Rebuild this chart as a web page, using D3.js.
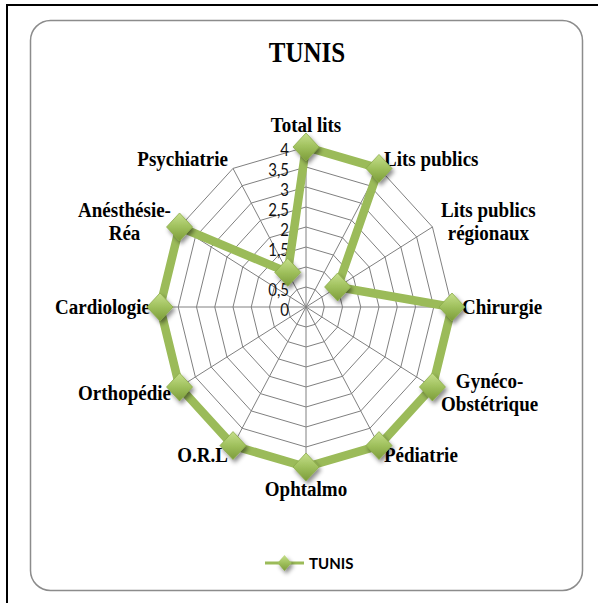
<!DOCTYPE html>
<html>
<head>
<meta charset="utf-8">
<script src="https://cdn.jsdelivr.net/npm/d3@7"></script>
<style>
  html, body { margin: 0; padding: 0; background: #fff; }
  svg { display: block; }
</style>
</head>
<body>
<svg id="chart" width="598" height="603"></svg>
<script>
// Hospital capacity indicators for the Tunis governorate
const categories = [
  ["Total lits"],
  ["Lits publics"],
  ["Lits publics", "régionaux"],
  ["Chirurgie"],
  ["Gynéco-", "Obstétrique"],
  ["Pédiatrie"],
  ["Ophtalmo"],
  ["O.R.L"],
  ["Orthopédie"],
  ["Cardiologie"],
  ["Anésthésie-", "Réa"],
  ["Psychiatrie"]
];
const seriesName = "TUNIS";
const values = [4, 4, 1, 4, 4, 4, 4, 4, 4, 4, 4, 1];
const tickValues = [0, 0.5, 1, 1.5, 2, 2.5, 3, 3.5, 4];
const tickLabels = ["0", "0,5", "1", "1,5", "2", "2,5", "3", "3,5", "4"];

const W = 598, H = 603;
const cx = 306, cy = 307, stretch = 1.096;
const green = "#9bbb59";

const svg = d3.select("#chart");
const defs = svg.append("defs");

const grad = defs.append("linearGradient")
  .attr("id", "markerFill").attr("x1", 0).attr("y1", 0).attr("x2", 0).attr("y2", 1);
grad.append("stop").attr("offset", "0%").attr("stop-color", "#c6df8c");
grad.append("stop").attr("offset", "50%").attr("stop-color", "#9fc05c");
grad.append("stop").attr("offset", "100%").attr("stop-color", "#7c9c3a");

const shadow = defs.append("filter").attr("id", "shadow")
  .attr("x", "-50%").attr("y", "-50%").attr("width", "200%").attr("height", "200%");
shadow.append("feDropShadow").attr("dx", 2).attr("dy", 3).attr("stdDeviation", 2)
  .attr("flood-color", "#000").attr("flood-opacity", 0.45);

// Outer frame and chart area
svg.append("rect")
  .attr("x", 7).attr("y", 5).attr("width", W + 10).attr("height", H + 10)
  .attr("fill", "none").attr("stroke", "#000").attr("stroke-width", 2);
svg.append("rect")
  .attr("x", 30.5).attr("y", 20.5).attr("width", 552).attr("height", 570)
  .attr("rx", 20).attr("ry", 20)
  .attr("fill", "#fff").attr("stroke", "#8c8c8c").attr("stroke-width", 1.5);

// Title
svg.append("text")
  .attr("transform", `translate(307,62) scale(1,1.15)`)
  .attr("text-anchor", "middle")
  .attr("font-family", "'Liberation Serif', serif")
  .attr("font-weight", "bold")
  .attr("font-size", 25)
  .attr("fill", "#000")
  .text(seriesName);

// Scales
const r = d3.scaleLinear().domain([0, 4]).range([0, 146]);
const angle = d3.scaleLinear().domain([0, categories.length]).range([0, 2 * Math.PI]);

const g = svg.append("g").attr("transform", `translate(${cx},${cy}) scale(1,${stretch})`);

// Grid rings
const ring = d3.lineRadial()
  .angle((d, i) => angle(i))
  .radius(d => r(d))
  .curve(d3.curveLinearClosed);

g.selectAll("path.ring")
  .data(tickValues.filter(v => v > 0))
  .join("path")
  .attr("class", "ring")
  .attr("d", v => ring(categories.map(() => v)))
  .attr("fill", "none")
  .attr("stroke", "#808080")
  .attr("stroke-width", 1)
  .attr("vector-effect", "non-scaling-stroke");

// Spokes
g.selectAll("line.spoke")
  .data(categories)
  .join("line")
  .attr("class", "spoke")
  .attr("x1", 0).attr("y1", 0)
  .attr("x2", (d, i) => r(4) * Math.sin(angle(i)))
  .attr("y2", (d, i) => -r(4) * Math.cos(angle(i)))
  .attr("stroke", "#808080")
  .attr("stroke-width", 1)
  .attr("vector-effect", "non-scaling-stroke");

// Tick labels along the first axis
g.selectAll("text.tick")
  .data(tickValues)
  .join("text")
  .attr("class", "tick")
  .attr("x", -17)
  .attr("y", v => -r(v) + 2)
  .attr("dominant-baseline", "central")
  .attr("text-anchor", "end")
  .attr("font-family", "Lato, 'Open Sans', sans-serif")
  .attr("font-size", 15)
  .attr("fill", "#111")
  .text((v, i) => tickLabels[i]);

// Category labels
const labelFont = "'Liberation Serif', serif";
const labelSize = 19;
const lineH = 21;
const labelR = r(4) + 10;

categories.forEach((lines, i) => {
  const a = angle(i);
  const s = Math.sin(a), c = Math.cos(a);
  let x = labelR * s, y = -labelR * c;
  let anchor = "middle";
  if (Math.abs(s) < 1e-6) {
    y += (c > 0 ? -10 : 10);
  } else {
    anchor = s > 0 ? "start" : "end";
  }
  const t = g.append("text")
    .attr("font-family", labelFont)
    .attr("font-weight", "bold")
    .attr("font-size", labelSize)
    .attr("fill", "#000")
    .attr("text-anchor", "middle");
  const spans = lines.map((ln, j) => t.append("tspan")
    .attr("dominant-baseline", "central")
    .text(ln));
  const widths = spans.map(sp => sp.node().getComputedTextLength());
  const blockW = d3.max(widths);
  const xc = anchor === "start" ? x + blockW / 2 : anchor === "end" ? x - blockW / 2 : x;
  spans.forEach((sp, j) => {
    sp.attr("x", xc).attr("y", y + (j - (lines.length - 1) / 2) * lineH);
  });
});

// Series line
const series = d3.lineRadial()
  .angle((d, i) => angle(i))
  .radius(d => r(d))
  .curve(d3.curveLinearClosed);

g.append("path")
  .attr("d", series(values))
  .attr("fill", "none")
  .attr("stroke", green)
  .attr("stroke-width", 8.5)
  .attr("stroke-linejoin", "round")
  .attr("vector-effect", "non-scaling-stroke");

// Diamond markers (drawn unstretched)
const diamond = (hw, hh) => `M0,${-hh}L${hw},0L0,${hh}L${-hw},0Z`;
svg.append("g").selectAll("path.marker")
  .data(values)
  .join("path")
  .attr("class", "marker")
  .attr("transform", (v, i) => {
    const px = cx + r(v) * Math.sin(angle(i));
    const py = cy - r(v) * Math.cos(angle(i)) * stretch;
    return `translate(${px},${py})`;
  })
  .attr("d", diamond(13, 14))
  .attr("fill", "url(#markerFill)")
  .attr("stroke", "#8aab48")
  .attr("stroke-width", 0.8)
  .attr("filter", "url(#shadow)");

// Legend
const lg = svg.append("g").attr("transform", "translate(0,563)");
lg.append("line")
  .attr("x1", 265).attr("x2", 304).attr("y1", 0).attr("y2", 0)
  .attr("stroke", green).attr("stroke-width", 3);
lg.append("path")
  .attr("transform", "translate(284.5,0)")
  .attr("d", diamond(7, 8))
  .attr("fill", "url(#markerFill)")
  .attr("filter", "url(#shadow)");
lg.append("text")
  .attr("x", 309).attr("y", 0)
  .attr("dominant-baseline", "central")
  .attr("font-family", "Lato, 'Open Sans', sans-serif")
  .attr("font-weight", "bold")
  .attr("font-size", 15)
  .attr("fill", "#000")
  .text(seriesName);
</script>
</body>
</html>
